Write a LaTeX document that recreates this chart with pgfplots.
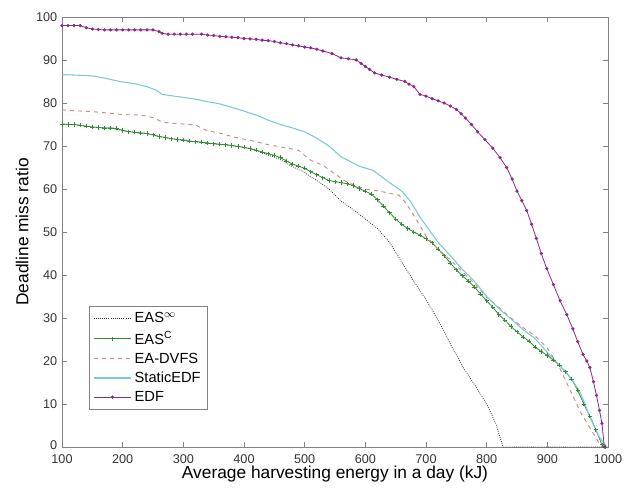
\documentclass[border=0pt]{standalone}
\usepackage{pgfplots}
\pgfplotsset{compat=1.18}
\usepackage{fontspec}
\setmainfont{Liberation Sans}
\usetikzlibrary{calc}
\definecolor{cedf}{RGB}{140,40,140}
\definecolor{cstat}{RGB}{125,200,215}
\definecolor{cdvfs}{RGB}{200,140,130}
\definecolor{ceasc}{RGB}{50,140,50}
\definecolor{ceasi}{RGB}{50,50,50}
\definecolor{caxis}{RGB}{130,130,130}
\begin{document}
\begin{tikzpicture}
\begin{axis}[
  scale only axis,
  width=409.5pt, height=322.5pt,
  xmin=100, xmax=1000, ymin=0, ymax=100,
  xtick={100,200,...,1000}, ytick={0,10,...,100},
  yticklabels={{\raisebox{3pt}{0}},10,20,30,40,50,60,70,80,90,100},
  /pgf/number format/assume math mode=true,
  /pgf/number format/1000 sep={},
  axis line style={caxis},
  tick style={caxis, thin},
  major tick length=4pt,
  tick label style={font=\fontsize{9.5}{11}\selectfont, text=black!80},
  xticklabel style={yshift=-2pt},
  xlabel={Average harvesting energy in a day (kJ)},
  ylabel={Deadline miss ratio},
  label style={font=\fontsize{13}{15}\selectfont},
  xlabel style={at={(axis description cs:0.5,-0.063)}, anchor=center},
  ylabel style={at={(axis description cs:-0.073,0.5)}, anchor=center},
  legend style={at={(0.049,0.086)}, anchor=south west, draw=caxis,
    font=\fontsize{11}{12.5}\selectfont, row sep=1pt, inner sep=3pt},
  legend cell align=left,
  legend image code/.code={\draw[mark repeat=2,mark phase=2,#1] plot coordinates {(0cm,0cm) (0.5cm,0cm) (1cm,0cm)};},
]
% EAS^infinity
\addplot[ceasi, densely dotted, line width=0.6pt] coordinates {
(100,75.1)(120,75.0)(140,74.6)(160,74.3)(180,74.2)(200,73.6)(220,73.2)(240,72.9)(260,72.2)(280,71.7)(300,71.4)(320,71.0)(340,70.7)(360,70.4)(380,70.1)(400,69.7)(420,69.0)(440,67.9)(460,66.8)(480,65.2)(500,63.8)(520,62.0)(540,60.0)(560,57.2)(580,55.2)(600,53.0)(620,50.8)(640,47.6)(660,43.0)(680,38.5)(700,34.3)(720,29.5)(740,24.0)(760,18.8)(780,14.5)(800,10.0)(815,5.5)(827,0)(1000,0)};
\addlegendentry{EAS$^{\infty}$}
% EAS^C
\addplot[ceasc, line width=0.6pt, mark=+, mark size=1.6pt, mark options={solid}] coordinates {
(100,75.1)(110,75.0)(120,75.0)(130,74.8)(140,74.6)(150,74.4)(160,74.3)(170,74.2)(180,74.2)(190,74.1)(200,73.6)(210,73.3)(220,73.2)(230,73.0)(240,72.9)(250,72.6)(260,72.2)(270,72.0)(280,71.7)(290,71.5)(300,71.4)(310,71.1)(320,71.0)(330,70.9)(340,70.7)(350,70.5)(360,70.4)(370,70.3)(380,70.1)(390,69.9)(400,69.7)(410,69.4)(420,69.0)(430,68.6)(440,68.2)(450,67.8)(460,67.3)(470,66.5)(480,65.8)(490,65.3)(500,64.8)(510,64.0)(520,63.3)(530,62.6)(540,62.0)(550,61.7)(560,61.5)(570,61.2)(580,60.8)(590,60.1)(600,59.5)(610,58.8)(620,57.5)(630,56.0)(640,54.5)(650,53.0)(660,51.8)(670,50.8)(680,50.0)(690,49.3)(700,48.4)(710,47.5)(720,46.0)(730,44.5)(740,42.8)(750,41.2)(760,39.8)(770,38.6)(780,37.2)(790,35.6)(800,34.0)(810,32.5)(820,30.8)(830,29.5)(840,28.0)(850,26.8)(860,25.6)(870,24.6)(880,23.2)(890,22.2)(900,21.3)(910,20.2)(920,19.0)(930,17.5)(940,15.8)(950,13.2)(960,10.0)(970,7.2)(980,4.0)(990,0.5)(995,0)};
\addlegendentry{EAS$^{\mathrm{C}}$}
% EA-DVFS
\addplot[cdvfs, dashed, line width=0.7pt] coordinates {
(100,78.4)(120,78.2)(150,78.0)(180,77.6)(200,77.3)(230,77.2)(250,76.6)(265,75.6)(280,75.3)(300,75.1)(320,74.9)(340,73.5)(360,73.0)(380,72.2)(400,71.6)(420,71.0)(440,70.3)(460,69.8)(490,69.0)(500,67.8)(510,66.7)(530,65.5)(550,63.5)(565,62.0)(580,61.0)(600,60.0)(620,59.6)(640,59.0)(655,58.6)(665,57.0)(675,55.0)(690,51.5)(700,49.0)(720,46.0)(740,43.5)(760,40.8)(780,38.0)(800,34.8)(820,32.5)(840,30.0)(860,27.8)(880,25.8)(900,23.0)(920,18.5)(940,12.5)(955,8.0)(970,4.5)(985,1.0)(990,0)};
\addlegendentry{EA-DVFS}
% StaticEDF
\addplot[cstat, line width=0.8pt] coordinates {
(100,86.6)(120,86.5)(150,86.3)(170,85.8)(195,85.0)(220,84.5)(240,83.8)(255,83.0)(265,82.0)(290,81.5)(320,80.9)(340,80.3)(360,79.8)(380,79.0)(400,78.1)(420,77.2)(440,76.0)(460,75.0)(480,74.2)(500,73.3)(520,71.8)(540,70.0)(560,67.5)(590,65.3)(613,64.3)(640,61.5)(660,59.5)(673,57.4)(690,53.5)(700,51.5)(720,47.6)(740,44.5)(760,41.3)(780,38.5)(800,35.0)(820,32.2)(840,29.8)(860,27.3)(880,25.2)(900,22.0)(920,19.0)(940,15.8)(955,12.5)(970,7.0)(985,2.5)(998,0)};
\addlegendentry{StaticEDF}
% EDF
\addplot[cedf, line width=0.6pt, mark=*, mark size=0.9pt] coordinates {
(100,98)(110,98)(120,98)(130,98)(140,97.5)(150,97.2)(160,97.1)(170,97)(180,97)(190,97)(200,97)(210,97)(220,97)(230,97)(240,97)(250,97)(260,96.6)(265,96.2)(275,96)(285,96)(295,96)(305,96)(315,96)(330,96)(340,95.8)(350,95.7)(360,95.5)(370,95.4)(380,95.3)(390,95.2)(400,95)(410,94.9)(420,94.8)(430,94.6)(440,94.5)(450,94.3)(460,94)(470,93.8)(480,93.5)(490,93.3)(500,93)(510,92.8)(520,92.5)(530,92.1)(545,91.5)(560,90.5)(572,90.3)(585,90)(593,89.2)(600,88.5)(607,87.8)(615,87)(627,86.5)(640,86)(652,85.5)(665,85)(672,84.4)(680,83.8)(690,82)(700,81.6)(710,81)(720,80.5)(730,80)(740,79.3)(750,78.5)(758,77.5)(765,76.5)(775,75)(785,73.3)(797,71.5)(810,69.5)(822,67.3)(833,65)(842,62.3)(850,59.5)(858,57.3)(866,55)(874,51.8)(882,48.5)(890,45)(899,41.5)(910,37.8)(921,34)(932,30.8)(942,27.5)(950,24.5)(959,21.5)(965,20)(970,18.5)(976,15.2)(981,12)(986,8.5)(990,5.5)(994,0)};
\addlegendentry{EDF}
\end{axis}
\path ($(current axis.south west)+(-46.5pt,-30pt)$) rectangle ($(current axis.north east)+(20.25pt,12.75pt)$);
\end{tikzpicture}
\end{document}
